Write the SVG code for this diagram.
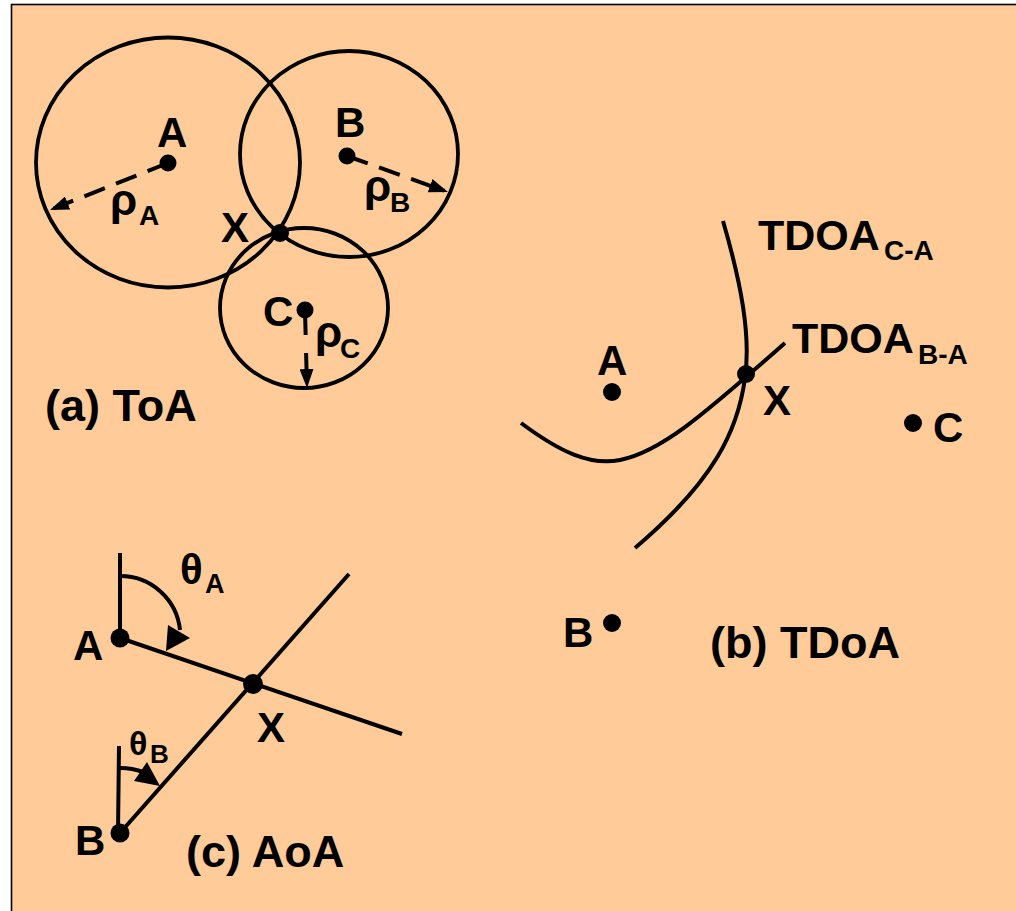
<svg xmlns="http://www.w3.org/2000/svg" width="1016" height="911" viewBox="0 0 1016 911">
<style>
.lbl{font-family:"Liberation Sans",Arial,sans-serif;font-weight:bold;font-size:42px;fill:#000}
.cap{font-family:"Liberation Sans",Arial,sans-serif;font-weight:bold;font-size:45px;fill:#000}
.tdoa{font-family:"Liberation Sans",Arial,sans-serif;font-weight:bold;font-size:43px;fill:#000}
.sub{font-family:"Liberation Sans",Arial,sans-serif;font-weight:bold;font-size:28px;fill:#000}
.gr{font-family:"Liberation Sans",Arial,sans-serif;font-weight:bold;font-size:44px;fill:#000}
.ring{fill:none;stroke:#000;stroke-width:3.8}
.curve{fill:none;stroke:#000;stroke-width:4}
.dash{fill:none;stroke:#000;stroke-width:4;stroke-dasharray:22 12}
.dot{fill:#000}
</style>
<defs>
<marker id="arr" viewBox="0 0 19 14" refX="15" refY="7" markerWidth="19" markerHeight="14" markerUnits="userSpaceOnUse" orient="auto">
<path d="M0,0 L19,7 L0,14 z" fill="#000"/>
</marker>
</defs>
<rect x="11.5" y="4.5" width="1020" height="920" fill="#FFCC99" stroke="#000" stroke-width="1.6"/>

<g id="toa">
<ellipse class="ring" cx="168" cy="162.5" rx="132" ry="125"/>
<ellipse class="ring" cx="349" cy="154" rx="109" ry="103"/>
<ellipse class="ring" cx="304" cy="308" rx="84" ry="80"/>
<g id="connectors-toa">
<line class="dash" x1="168" y1="163" x2="53.7" y2="208.5" marker-end="url(#arr)"/>
<line class="dash" x1="347" y1="156" x2="444.2" y2="190.7" marker-end="url(#arr)"/>
<line class="dash" x1="305" y1="310" x2="306.9" y2="384" style="stroke-dasharray:25 18" marker-end="url(#arr)"/>
</g>
<g id="toa-A"><circle class="dot" cx="168" cy="163" r="8.5"/><text class="lbl" x="157" y="147">A</text></g>
<g id="toa-B"><circle class="dot" cx="347" cy="156" r="8.5"/><text class="lbl" x="335" y="137">B</text></g>
<g id="toa-C"><circle class="dot" cx="305" cy="310" r="8.5"/><text class="lbl" x="263" y="326">C</text></g>
<g id="toa-X"><circle class="dot" cx="280" cy="233" r="9"/><text class="lbl" x="221" y="242">X</text></g>
<text class="gr" x="110" y="215">ρ</text><text class="sub" x="139" y="225">A</text>
<text class="gr" x="364" y="201">ρ</text><text class="sub" x="390" y="212">B</text>
<text class="gr" x="315" y="347">ρ</text><text class="sub" x="340" y="358">C</text>
<text class="cap" x="45" y="421">(a) ToA</text>
</g>

<g id="tdoa">
<g id="connectors-tdoa">
<path class="curve" d="M723,221 C741,283 751,335 745,378 C738,430 715,480 635,548"/>
<path class="curve" d="M521,423 C560,452 590,466 620,460 C660,452 700,418 785,343"/>
</g>
<text class="tdoa" x="758" y="250">TDOA</text><text class="sub" x="884" y="260">C-A</text>
<text class="tdoa" x="792" y="353">TDOA</text><text class="sub" x="918" y="364">B-A</text>
<g id="tdoa-A"><circle class="dot" cx="612" cy="392" r="9"/><text class="lbl" x="597" y="375">A</text></g>
<g id="tdoa-X"><circle class="dot" cx="746" cy="374" r="9"/><text class="lbl" x="763" y="415">X</text></g>
<g id="tdoa-C"><circle class="dot" cx="913" cy="423" r="9"/><text class="lbl" x="933" y="442">C</text></g>
<g id="tdoa-B"><circle class="dot" cx="612" cy="623" r="9"/><text class="lbl" x="563" y="647">B</text></g>
<text class="cap" x="710" y="658">(b) TDoA</text>
</g>

<g id="aoa">
<g id="connectors-aoa">
<line class="curve" x1="120" y1="553" x2="120" y2="638"/>
<line class="curve" x1="119" y1="746" x2="118" y2="833"/>
<line class="curve" x1="120" y1="638" x2="402" y2="734"/>
<line class="curve" x1="120" y1="833" x2="349" y2="574"/>
<path class="curve" d="M120,576 A60,60 0 0 1 180,630"/>
<polygon points="168,625 190,638 166,651" fill="#000"/>
<path class="curve" d="M120,768 A65,65 0 0 1 143,772"/>
<polygon points="147,762 134,781 160,786" fill="#000"/>
</g>
<g id="aoa-A"><circle class="dot" cx="120" cy="638" r="9.5"/><text class="lbl" x="73" y="660">A</text></g>
<g id="aoa-B"><circle class="dot" cx="120" cy="833" r="9.5"/><text class="lbl" x="75" y="855">B</text></g>
<g id="aoa-X"><circle class="dot" cx="253" cy="684" r="10"/><text class="lbl" x="257" y="742">X</text></g>
<text class="gr" style="font-size:42px" x="180" y="584">θ</text><text class="sub" style="font-size:27px" x="205" y="593">A</text>
<text class="gr" style="font-size:34px" x="129" y="755">θ</text><text class="sub" style="font-size:26px" x="150" y="763">B</text>
<text class="cap" x="186" y="867">(c) AoA</text>
</g>
</svg>
